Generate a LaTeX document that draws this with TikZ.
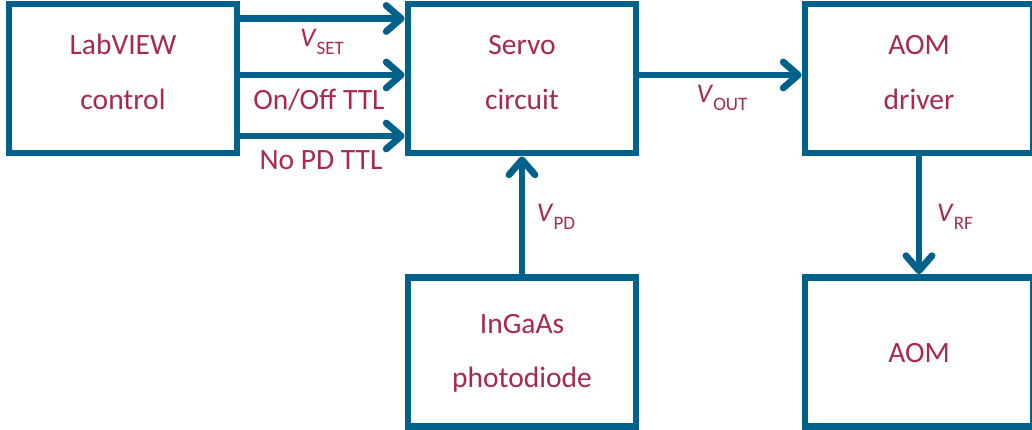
\documentclass[tikz,border=0pt]{standalone}
\usepackage{fontspec}
\setmainfont{Carlito}
\usetikzlibrary{arrows.meta}
\definecolor{lineblue}{RGB}{0,98,138}
\definecolor{txtred}{RGB}{168,40,78}
\newcommand\Vlab[1]{{\fontsize{27}{32}\selectfont\textit{V}}\raisebox{-8pt}{\fontsize{19}{19}\selectfont #1}}
\begin{document}
\begin{tikzpicture}[x=1pt,y=-1pt,
 box/.style={draw=lineblue,line width=6.8pt,minimum width=228pt,minimum height=149pt,inner sep=0pt},
 txt/.style={text=txtred,font=\fontsize{29.5}{34}\selectfont,anchor=base,inner sep=0pt},
 arr/.style={draw=lineblue,line width=6.8pt,-{Straight Barb[length=15pt,width=26pt,line cap=round,line join=round]}}]
\useasboundingbox (0,0) rectangle (1032,430);
% boxes
\node[box] (A) at (123,78.5) {};
\node[box] (S) at (522,78.5) {};
\node[box] (D) at (919,78.5) {};
\node[box] (P) at (522,352) {};
\node[box] (M) at (919,352) {};
% box texts
\node[txt] (A1) at (123,55) {LabVIEW};
\node[txt] (A2) at (123,110) {control};
\node[txt] (S1) at (522,55) {Servo};
\node[txt] (S2) at (522,110) {circuit};
\node[txt] (D1) at (919,55) {AOM};
\node[txt] (D2) at (919,110) {driver};
\node[txt] (P1) at (522,333) {InGaAs};
\node[txt] (P2) at (522,387) {photodiode};
\node[txt] (M1) at (919,362) {AOM};
% connectors
\coordinate (y1) at (0,18.5);
\coordinate (y2) at (0,75);
\coordinate (y3) at (0,136);
\draw[arr] (A.east |- y1) -- (S.west |- y1);
\draw[arr] (A.east |- y2) -- (S.west |- y2);
\draw[arr] (A.east |- y3) -- (S.west |- y3);
\draw[arr] (S.east |- y2) -- (D.west |- y2);
\draw[arr] (P.north) -- (S.south);
\draw[arr] (D.south) -- (M.north);
% labels
\node[txt] (L1) at (322,47) {\Vlab{SET}};
\node[txt] (L2) at (319,110) {On/Off TTL};
\node[txt] (L3) at (321,170) {No PD TTL};
\node[txt] (L4) at (722,103) {\Vlab{OUT}};
\node[txt] (L5) at (556,222) {\Vlab{PD}};
\node[txt] (L6) at (955,222) {\Vlab{RF}};
\end{tikzpicture}
\end{document}
